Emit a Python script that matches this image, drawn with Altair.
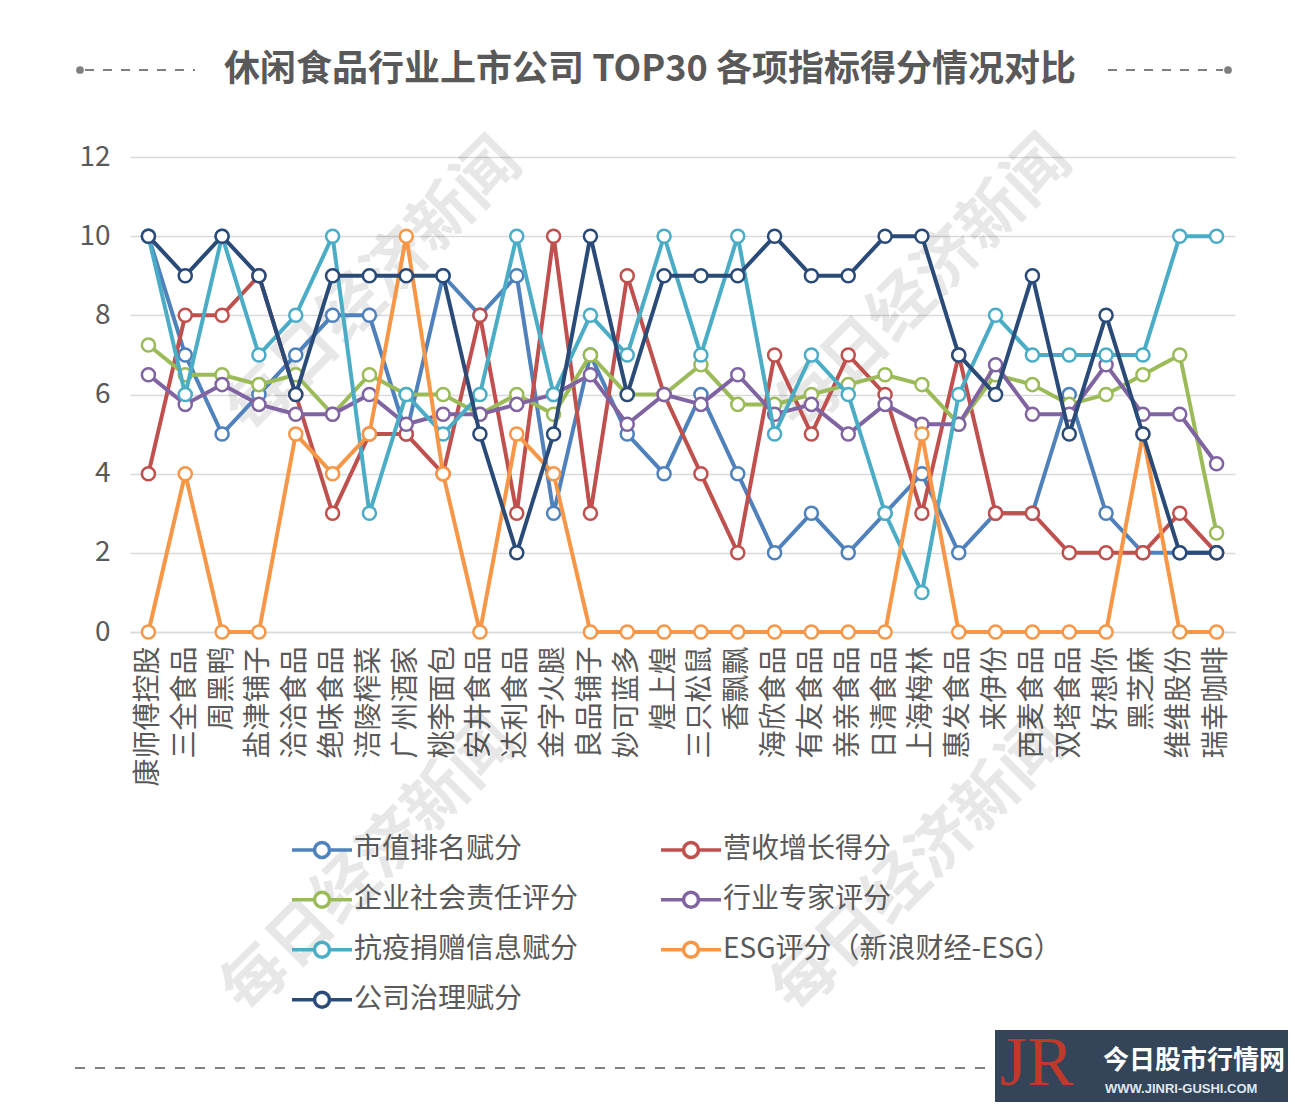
import altair as alt
import pandas as pd

FONT = "Noto Sans CJK SC"
GRAY = "#595959"

categories = ["康师傅控股", "三全食品", "周黑鸭", "盐津铺子", "洽洽食品", "绝味食品", "涪陵榨菜",
              "广州酒家", "桃李面包", "安井食品", "达利食品", "金字火腿", "良品铺子", "妙可蓝多",
              "煌上煌", "三只松鼠", "香飘飘", "海欣食品", "有友食品", "亲亲食品", "日清食品",
              "上海梅林", "惠发食品", "来伊份", "西麦食品", "双塔食品", "好想你", "黑芝麻",
              "维维股份", "瑞幸咖啡"]

series_names = ["市值排名赋分", "营收增长得分", "企业社会责任评分", "行业专家评分",
                "抗疫捐赠信息赋分", "ESG评分（新浪财经-ESG）", "公司治理赋分"]

market_cap = [10, 7, 5, 6, 7, 8, 8, 5, 9, 8, 9, 3, 7, 5, 4, 6, 4, 2, 3, 2, 3, 4, 2, 3, 3, 6, 3, 2, 2, 2]
revenue = [4, 8, 8, 9, 6, 3, 5, 5, 4, 8, 3, 10, 3, 9, 6, 4, 2, 7, 5, 7, 6, 3, 7, 3, 3, 2, 2, 2, 3, 2]
csr = [7.25, 6.5, 6.5, 6.25, 6.5, 5.5, 6.5, 6, 6, 5.5, 6, 5.5, 7, 6, 6, 6.75, 5.75, 5.75, 6, 6.25,
       6.5, 6.25, 5.25, 6.5, 6.25, 5.75, 6, 6.5, 7, 2.5]
expert = [6.5, 5.75, 6.25, 5.75, 5.5, 5.5, 6, 5.25, 5.5, 5.5, 5.75, 6, 6.5, 5.25, 6, 5.75, 6.5, 5.5,
          5.75, 5, 5.75, 5.25, 5.25, 6.75, 5.5, 5.5, 6.75, 5.5, 5.5, 4.25]
donation = [10, 6, 10, 7, 8, 10, 3, 6, 5, 6, 10, 6, 8, 7, 10, 7, 10, 5, 7, 6, 3, 1, 6, 8, 7, 7, 7, 7, 10, 10]
esg = [0, 4, 0, 0, 5, 4, 5, 10, 4, 0, 5, 4, 0, 0, 0, 0, 0, 0, 0, 0, 0, 5, 0, 0, 0, 0, 0, 5, 0, 0]
governance = [10, 9, 10, 9, 6, 9, 9, 9, 9, 5, 2, 5, 10, 6, 9, 9, 9, 10, 9, 9, 10, 10, 7, 6, 9, 5, 8, 5, 2, 2]

colors = ["#4f81bd", "#c0504d", "#9bbb59", "#8064a2", "#4bacc6", "#f79646", "#2a4a78"]

y_ticks = [0, 2, 4, 6, 8, 10, 12]

all_values = [market_cap, revenue, csr, expert, donation, esg, governance]
rows = []
for name, vals in zip(series_names, all_values):
    for cat, v in zip(categories, vals):
        rows.append({"category": cat, "series": name, "value": v})
df = pd.DataFrame(rows)
deco = pd.DataFrame({"k": [0]})

legend_path = ("M-1,0L-0.25,0M0.25,0L1,0"
               "M0.25,0A0.25,0.25,0,1,1,-0.25,0A0.25,0.25,0,1,1,0.25,0")

color = alt.Color(
    "series:N",
    scale=alt.Scale(domain=series_names, range=colors),
    legend=alt.Legend(
        title=None, orient="none", legendX=160, legendY=669, columns=2,
        direction="horizontal",
        columnPadding=80, rowPadding=2, clipHeight=47.5,
        symbolType=legend_path, symbolSize=3600, symbolStrokeWidth=3.5,
        symbolFillColor="white", symbolOpacity=1,
        labelFontSize=28, labelFont=FONT, labelColor=GRAY, labelOffset=0,
        labelLimit=600, padding=0,
    ),
)
x = alt.X(
    "category:N", sort=categories,
    scale=alt.Scale(type="point", padding=0.5),
    axis=alt.Axis(title=None, labelAngle=-90, labelFontSize=28, labelFont=FONT,
                  labelColor=GRAY, labelPadding=14, ticks=False, domain=True,
                  domainColor="#d9d9d9", domainWidth=1.5, grid=False, labelLimit=400),
)
y = alt.Y(
    "value:Q",
    scale=alt.Scale(domain=[0, 12], nice=False),
    axis=alt.Axis(title=None, values=y_ticks, labelFontSize=28, labelFont=FONT,
                  labelColor=GRAY, labelPadding=20, ticks=False, domain=False,
                  gridColor="#d9d9d9", gridWidth=1.5),
)

layers = []

# watermarks
for cx, cy in [(245, 130), (795, 128), (240, 710), (790, 710)]:
    layers.append(
        alt.Chart(deco).mark_text(
            text="每日经济新闻", font=FONT, fontSize=64, fontWeight="bold",
            color="#000000", opacity=0.09, angle=315, align="center", baseline="middle",
        ).encode(x=alt.value(cx), y=alt.value(cy))
    )

base = alt.Chart(df)
for s in series_names:
    sub = base.transform_filter(alt.datum.series == s)
    layers.append(sub.mark_line(strokeWidth=4).encode(x=x, y=y, color=color))
    layers.append(
        sub.mark_point(filled=False, fill="white", size=170, strokeWidth=2.5, opacity=1)
        .encode(x=x, y=y, color=color)
    )

# title and decorations
layers.append(
    alt.Chart(deco).mark_text(
        text="休闲食品行业上市公司 TOP30 各项指标得分情况对比", font=FONT, fontSize=36,
        fontWeight="bold", color=GRAY, align="center", baseline="middle",
    ).encode(x=alt.value(520), y=alt.value(-87))
)
for x1, x2 in [(-45, 65), (978, 1093)]:
    layers.append(
        alt.Chart(deco).mark_rule(strokeDash=[9, 9], color="#7f7f7f", strokeWidth=2)
        .encode(x=alt.value(x1), x2=alt.value(x2), y=alt.value(-87))
    )
for dx in [-50, 1098]:
    layers.append(
        alt.Chart(deco).mark_point(filled=True, color="#7f7f7f", size=60, opacity=1)
        .encode(x=alt.value(dx), y=alt.value(-87))
    )
layers.append(
    alt.Chart(deco).mark_rule(strokeDash=[10, 10], color="#7f7f7f", strokeWidth=2)
    .encode(x=alt.value(-55), x2=alt.value(865), y=alt.value(911))
)
# site logo box
layers.append(
    alt.Chart(deco).mark_rect(color="#34455a")
    .encode(x=alt.value(865), x2=alt.value(1170), y=alt.value(873), y2=alt.value(960))
)
layers.append(
    alt.Chart(deco).mark_text(
        text="JR", font="Liberation Serif", fontSize=70, color="#c0392b",
        align="left", baseline="alphabetic",
    ).encode(x=alt.value(870), y=alt.value(928))
)
layers.append(
    alt.Chart(deco).mark_text(
        text="今日股市行情网", font=FONT, fontSize=26, fontWeight="bold", color="#ffffff",
        align="left", baseline="middle",
    ).encode(x=alt.value(973), y=alt.value(904))
)
layers.append(
    alt.Chart(deco).mark_text(
        text="WWW.JINRI-GUSHI.COM", font="Liberation Sans", fontSize=13, fontWeight="bold",
        color="#dfe6ee", align="left", baseline="middle",
    ).encode(x=alt.value(975), y=alt.value(932))
)

chart = alt.layer(*layers).properties(
    width=1105, height=475,
    autosize=alt.AutoSizeParams(type="none"),
    padding={"left": 122, "top": 149, "right": 53, "bottom": 470},
    background="white",
).configure_view(stroke=None)

chart.save("out.html", embed_options={"renderer": "svg", "actions": False})
